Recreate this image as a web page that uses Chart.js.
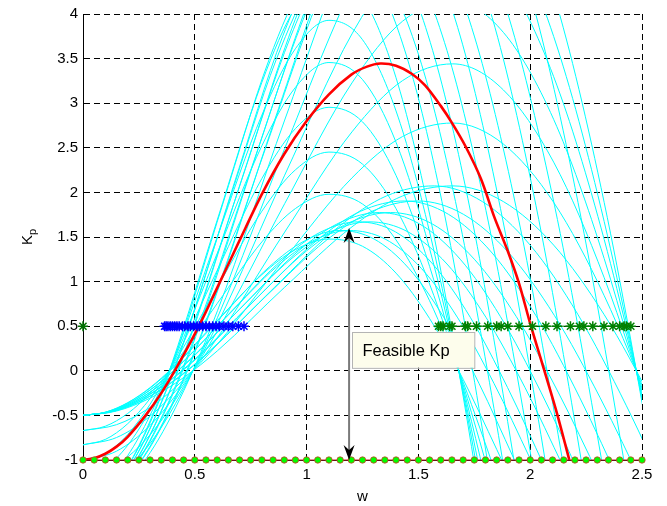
<!DOCTYPE html>
<html>
<head>
<meta charset="utf-8">
<script src="https://cdn.jsdelivr.net/npm/chart.js@4/dist/chart.umd.min.js"></script>
<style>
html,body{margin:0;padding:0;background:#fff;}
#c{display:block;}
</style>
</head>
<body>
<canvas id="c" width="667" height="506"></canvas>
<script>
// ---------- axis ticks ----------
const wTicks = [0, 0.5, 1, 1.5, 2, 2.5];
const kpTicks = [-1, -0.5, 0, 0.5, 1, 1.5, 2, 2.5, 3, 3.5, 4];

// ---------- red nominal curve ----------
const redW  = [0, .05, .1, .15, .2, .28, .35, .41, .47, .53, .6, .7, .8, .9, 1.0, 1.1, 1.2, 1.27, 1.33, 1.4, 1.47, 1.53, 1.6, 1.65, 1.71, 1.78, 1.84, 1.9, 1.95, 2.0, 2.06, 2.12, 2.175];
const redKp = [-1, -.98, -.93, -.85, -.74, -.5, -.25, 0, .27, .56, .93, 1.46, 1.98, 2.43, 2.8, 3.1, 3.32, 3.41, 3.445, 3.42, 3.33, 3.2, 2.97, 2.78, 2.52, 2.15, 1.72, 1.34, .98, .53, .03, -.48, -1];

// ---------- cyan family: w samples per group ----------
const wL200 = [0, .1, .2, .3, .4, .6, .8, .95, 1.1, 1.25, 1.4, 1.55, 1.7, 1.85, 2.0];
const wL192 = [0, .104, .208, .313, .417, .625, .833, .99, 1.146, 1.302, 1.458, 1.615, 1.771, 1.927, 2.083];
const wL185 = [0, .108, .216, .324, .432, .649, .865, 1.027, 1.189, 1.351, 1.514, 1.676, 1.838, 2.0, 2.162];
const wL179 = [0, .112, .223, .335, .447, .67, .894, 1.061, 1.229, 1.397, 1.564, 1.732, 1.899, 2.067, 2.235];
const wL172 = [0, .116, .233, .349, .465, .698, .93, 1.105, 1.279, 1.453, 1.628, 1.802, 1.977, 2.151, 2.326];
const wL166 = [0, .12, .241, .361, .482, .723, .964, 1.145, 1.325, 1.506, 1.687, 1.867, 2.048, 2.229, 2.41];
const wL160 = [0, .125, .25, .375, .5, .75, 1.0, 1.188, 1.375, 1.563, 1.75, 1.938, 2.125, 2.313, 2.5];
const wL153 = [0, .131, .261, .392, .523, .784, 1.046, 1.242, 1.438, 1.634, 1.83, 2.026, 2.222, 2.418, 2.614];
const wL147 = [0, .136, .272, .408, .544, .816, 1.088, 1.293, 1.497, 1.701, 1.905, 2.109, 2.313, 2.517, 2.721];
const wL140 = [0, .143, .286, .429, .571, .857, 1.143, 1.357, 1.571, 1.786, 2.0, 2.214, 2.429, 2.643, 2.857];
const wL133 = [0, .15, .301, .451, .602, .902, 1.203, 1.429, 1.654, 1.88, 2.105, 2.331, 2.556, 2.782, 3.008];

// ---------- cyan family: Kp values ----------
const kpG0a = [-.5, -.464, -.357, -.188, .034, .563, 1.078, 1.358, 1.477, 1.396, 1.095, .586, -.095, -.88, -1.687];
const kpG0b = [-.67, -.621, -.478, -.251, .045, .754, 1.445, 1.819, 1.979, 1.87, 1.467, .785, -.127, -1.179, -2.26];
const kpG0c = [-.83, -.769, -.593, -.311, .056, .934, 1.789, 2.253, 2.452, 2.317, 1.818, .972, -.157, -1.46, -2.8];
const kpG0d = [-1, -.927, -.714, -.375, .067, 1.125, 2.156, 2.715, 2.954, 2.791, 2.19, 1.171, -.189, -1.759, -3.373];
const kpG0e = [-1.17, -1.085, -.835, -.439, .078, 1.316, 2.523, 3.177, 3.456, 3.265, 2.562, 1.37, -.221, -2.058, -3.946];
const kpG0f = [-1.33, -1.233, -.95, -.499, .089, 1.496, 2.867, 3.611, 3.929, 3.712, 2.913, 1.557, -.251, -2.339, -4.486];
const kpG0g = [-1.5, -1.391, -1.071, -.563, .101, 1.688, 3.234, 4.073, 4.431, 4.187, 3.285, 1.757, -.284, -2.639, -5.06];

const kpAa = [-.5, -.462, -.349, -.169, .065, .623, 1.165, 1.455, 1.573, 1.477, 1.146, .593, -.141, -.986, -1.85];
const kpAg = [-1.5, -1.385, -1.046, -.507, .194, 1.869, 3.494, 4.364, 4.719, 4.43, 3.437, 1.778, -.423, -2.957, -5.55];
const kpBa = [-.5, -.46, -.34, -.151, .096, .684, 1.252, 1.553, 1.67, 1.558, 1.197, .6, -.189, -1.093, -2.015];
const kpBg = [-1.5, -1.379, -1.02, -.452, .287, 2.052, 3.756, 4.658, 5.01, 4.674, 3.59, 1.799, -.566, -3.278, -6.045];
const kpCa = [-.5, -.457, -.331, -.131, .129, .749, 1.345, 1.657, 1.774, 1.645, 1.251, .607, -.239, -1.206, -2.19];
const kpCg = [-1.5, -1.371, -.993, -.393, .387, 2.247, 4.034, 4.97, 5.321, 4.934, 3.753, 1.821, -.717, -3.618, -6.572];
const kpDa = [-.5, -.454, -.32, -.106, .171, .831, 1.462, 1.789, 1.904, 1.755, 1.32, .617, -.303, -1.35, -2.413];
const kpDg = [-1.5, -1.362, -.959, -.318, .513, 2.493, 4.386, 5.367, 5.712, 5.264, 3.96, 1.85, -.909, -4.05, -7.239];

const kpEa = [-.5, -.451, -.305, -.074, .226, .937, 1.614, 1.96, 2.073, 1.897, 1.409, .629, -.386, -1.537, -2.7];
const kpEb = [-.67, -.604, -.409, -.099, .302, 1.256, 2.163, 2.626, 2.778, 2.542, 1.888, .842, -.517, -2.059, -3.619];
const kpEc = [-.83, -.748, -.506, -.123, .374, 1.555, 2.679, 3.253, 3.441, 3.149, 2.339, 1.043, -.64, -2.551, -4.483];
const kpEd = [-1, -.901, -.61, -.148, .451, 1.874, 3.228, 3.919, 4.146, 3.794, 2.818, 1.257, -.771, -3.073, -5.401];
const kpEe = [-1.17, -1.054, -.714, -.173, .528, 2.193, 3.777, 4.585, 4.851, 4.439, 3.297, 1.471, -.902, -3.595, -6.319];
const kpEf = [-1.33, -1.198, -.811, -.197, .6, 2.492, 4.293, 5.212, 5.514, 5.046, 3.748, 1.672, -1.025, -4.087, -7.183];
const kpEg = [-1.5, -1.352, -.915, -.222, .677, 2.811, 4.842, 5.879, 6.219, 5.691, 4.227, 1.886, -1.157, -4.61, -8.1];

const cyanCurves = [
  [wL200, kpG0a], [wL200, kpG0b], [wL200, kpG0c], [wL200, kpG0d], [wL200, kpG0e], [wL200, kpG0f], [wL200, kpG0g],
  [wL192, kpAa], [wL192, kpAg],
  [wL185, kpAa], [wL185, kpAg],
  [wL179, kpBa], [wL179, kpBg],
  [wL172, kpBa], [wL172, kpBg],
  [wL166, kpCa], [wL166, kpCg],
  [wL160, kpCa], [wL160, kpCg],
  [wL153, kpDa], [wL153, kpDg],
  [wL147, kpDa], [wL147, kpDg],
  [wL140, kpEa], [wL140, kpEg],
  [wL133, kpEa], [wL133, kpEb], [wL133, kpEc], [wL133, kpEd], [wL133, kpEe], [wL133, kpEf], [wL133, kpEg]
];

// ---------- markers on Kp = 0.5 ----------
const starKp = 0.5;
const blueStarW = [0.365, 0.372, 0.38, 0.39, 0.40, 0.41, 0.42, 0.43, 0.445, 0.455, 0.47, 0.48, 0.495, 0.51, 0.52, 0.535, 0.55, 0.565, 0.58, 0.595, 0.61, 0.63, 0.65, 0.67, 0.695, 0.72];
const greenStarW = [1.59, 1.60, 1.61, 1.64, 1.65, 1.71, 1.72, 1.76, 1.81, 1.85, 1.87, 1.90, 1.95, 2.01, 2.07, 2.12, 2.18, 2.22, 2.24, 2.28, 2.33, 2.37, 2.40, 2.42, 2.43, 2.45];
const greenStarLoneW = [0];

// ---------- markers on Kp = -1 ----------
const dotKp = -1;
const dotW = [0, 0.05, 0.1, 0.15, 0.2, 0.25, 0.3, 0.35, 0.4, 0.45, 0.5, 0.55, 0.6, 0.65, 0.7, 0.75, 0.8, 0.85, 0.9, 0.95, 1.0, 1.05, 1.1, 1.15, 1.2, 1.25, 1.3, 1.35, 1.4, 1.45, 1.5, 1.55, 1.6, 1.65, 1.7, 1.75, 1.8, 1.85, 1.9, 1.95, 2.0, 2.05, 2.1, 2.15, 2.2, 2.25, 2.3, 2.35, 2.4, 2.45, 2.5];

// ---------- annotation ----------
const arrowW = 1.19;
const arrowKp = [-1, 1.6];
const noteText = 'Feasible Kp';
const noteW = [1.205, 1.752];
const noteKp = [0.437, 0.035];

// ---------- build datasets ----------
const pts = (xs, ys) => xs.map((v, i) => ({x: v, y: Array.isArray(ys) ? ys[i] : ys}));
const datasets = [];
cyanCurves.forEach(([xs, ys]) => datasets.push({
  data: pts(xs, ys), showLine: true, borderColor: 'rgb(0,255,255)', borderWidth: 1,
  pointRadius: 0, cubicInterpolationMode: 'monotone', clip: 0, order: 10
}));
datasets.push({
  data: pts(redW, redKp), showLine: true, borderColor: 'rgb(255,0,0)', borderWidth: 2.6,
  pointRadius: 0, tension: 0.3, clip: 0, order: 5
});
datasets.push({
  data: pts(blueStarW, starKp), showLine: true, borderColor: 'rgb(0,0,255)', borderWidth: 1,
  pointStyle: 'star', pointRadius: 5, pointBorderColor: 'rgb(0,0,255)', pointBorderWidth: 1.5, clip: false, order: 3
});
datasets.push({
  data: pts(greenStarW, starKp), showLine: true, borderColor: 'rgb(0,110,0)', borderWidth: 1,
  pointStyle: 'star', pointRadius: 5, pointBorderColor: 'rgb(0,128,0)', pointBorderWidth: 1.5, clip: false, order: 3
});
datasets.push({
  data: pts(greenStarLoneW, starKp), showLine: false,
  pointStyle: 'star', pointRadius: 5, pointBorderColor: 'rgb(0,110,0)', pointBorderWidth: 1.5, clip: false, order: 3
});
datasets.push({
  data: pts(dotW, dotKp), showLine: true, borderColor: 'rgb(200,40,40)', borderWidth: 1,
  pointStyle: 'circle', pointRadius: 3.2, pointBackgroundColor: 'rgb(0,255,0)', pointBorderColor: 'rgb(210,60,40)', pointBorderWidth: 0.8,
  clip: false, order: 1
});

const FONT = '"Liberation Sans", Arial, sans-serif';

const annot = {
  id: 'annot',
  afterDatasetsDraw(chart) {
    const {ctx, scales: {x, y}} = chart;
    ctx.save();
    const ax = x.getPixelForValue(arrowW);
    const yb = y.getPixelForValue(arrowKp[0]);
    const yt = y.getPixelForValue(arrowKp[1]);
    ctx.strokeStyle = '#7a7a7a';
    ctx.lineWidth = 2;
    ctx.beginPath();
    ctx.moveTo(ax, yb - 8);
    ctx.lineTo(ax, yt + 8);
    ctx.stroke();
    const head = (tipY, dir) => {
      ctx.fillStyle = '#000';
      ctx.beginPath();
      ctx.moveTo(ax, tipY);
      ctx.lineTo(ax + 5.5, tipY + dir * 15);
      ctx.lineTo(ax, tipY + dir * 10);
      ctx.lineTo(ax - 5.5, tipY + dir * 15);
      ctx.closePath();
      ctx.fill();
    };
    head(yt, 1);
    head(yb, -1);
    const bx0 = x.getPixelForValue(noteW[0]), bx1 = x.getPixelForValue(noteW[1]);
    const by0 = y.getPixelForValue(noteKp[0]), by1 = y.getPixelForValue(noteKp[1]);
    ctx.fillStyle = '#fdfdec';
    ctx.fillRect(bx0, by0, bx1 - bx0, by1 - by0);
    ctx.strokeStyle = '#b4b4b4';
    ctx.lineWidth = 1;
    ctx.strokeRect(Math.round(bx0) + 0.5, Math.round(by0) + 0.5, bx1 - bx0, by1 - by0);
    ctx.fillStyle = '#000';
    ctx.font = '16.5px ' + FONT;
    ctx.textBaseline = 'alphabetic';
    ctx.textAlign = 'left';
    ctx.fillText(noteText, bx0 + 10, (by0 + by1) / 2 + 6);
    ctx.restore();
  },
  afterDraw(chart) {
    const {ctx, chartArea} = chart;
    ctx.save();
    ctx.fillStyle = '#000';
    ctx.font = '15px ' + FONT;
    ctx.textAlign = 'center';
    ctx.textBaseline = 'middle';
    ctx.fillText('w', (chartArea.left + chartArea.right) / 2, 497);
    const cy = (chartArea.top + chartArea.bottom) / 2;
    ctx.translate(32, cy);
    ctx.rotate(-Math.PI / 2);
    ctx.textAlign = 'left';
    ctx.textBaseline = 'alphabetic';
    ctx.font = '15px ' + FONT;
    const kW = ctx.measureText('K').width;
    ctx.font = '11px ' + FONT;
    const pW = ctx.measureText('p').width;
    const start = -(kW + pW) / 2;
    ctx.font = '15px ' + FONT;
    ctx.fillText('K', start, 0);
    ctx.font = '11px ' + FONT;
    ctx.fillText('p', start + kW, 4);
    ctx.restore();
  }
};

new Chart(document.getElementById('c'), {
  type: 'scatter',
  data: {datasets},
  options: {
    responsive: false,
    animation: false,
    devicePixelRatio: 1,
    layout: {padding: {top: 12, right: 25, left: 0, bottom: 0}},
    plugins: {legend: {display: false}, tooltip: {enabled: false}},
    scales: {
      x: {
        type: 'linear', min: 0, max: 2.5,
        afterBuildTicks: s => { s.ticks = wTicks.map(v => ({value: v})); },
        afterFit: s => { s.height = 46; },
        grid: {color: '#000', lineWidth: 1, drawTicks: false},
        border: {display: true, color: '#000', width: 1, dash: [6, 4]},
        ticks: {color: '#000', font: {family: FONT, size: 15}, padding: 6, maxRotation: 0, callback: v => String(v)}
      },
      y: {
        type: 'linear', min: -1, max: 4,
        afterBuildTicks: s => { s.ticks = kpTicks.map(v => ({value: v})); },
        afterFit: s => { s.width = 83; },
        grid: {color: '#000', lineWidth: 1, drawTicks: false},
        border: {display: true, color: '#000', width: 1, dash: [6, 4]},
        ticks: {color: '#000', font: {family: FONT, size: 15}, padding: 5, callback: v => String(v)}
      }
    }
  },
  plugins: [annot]
});
</script>
</body>
</html>
